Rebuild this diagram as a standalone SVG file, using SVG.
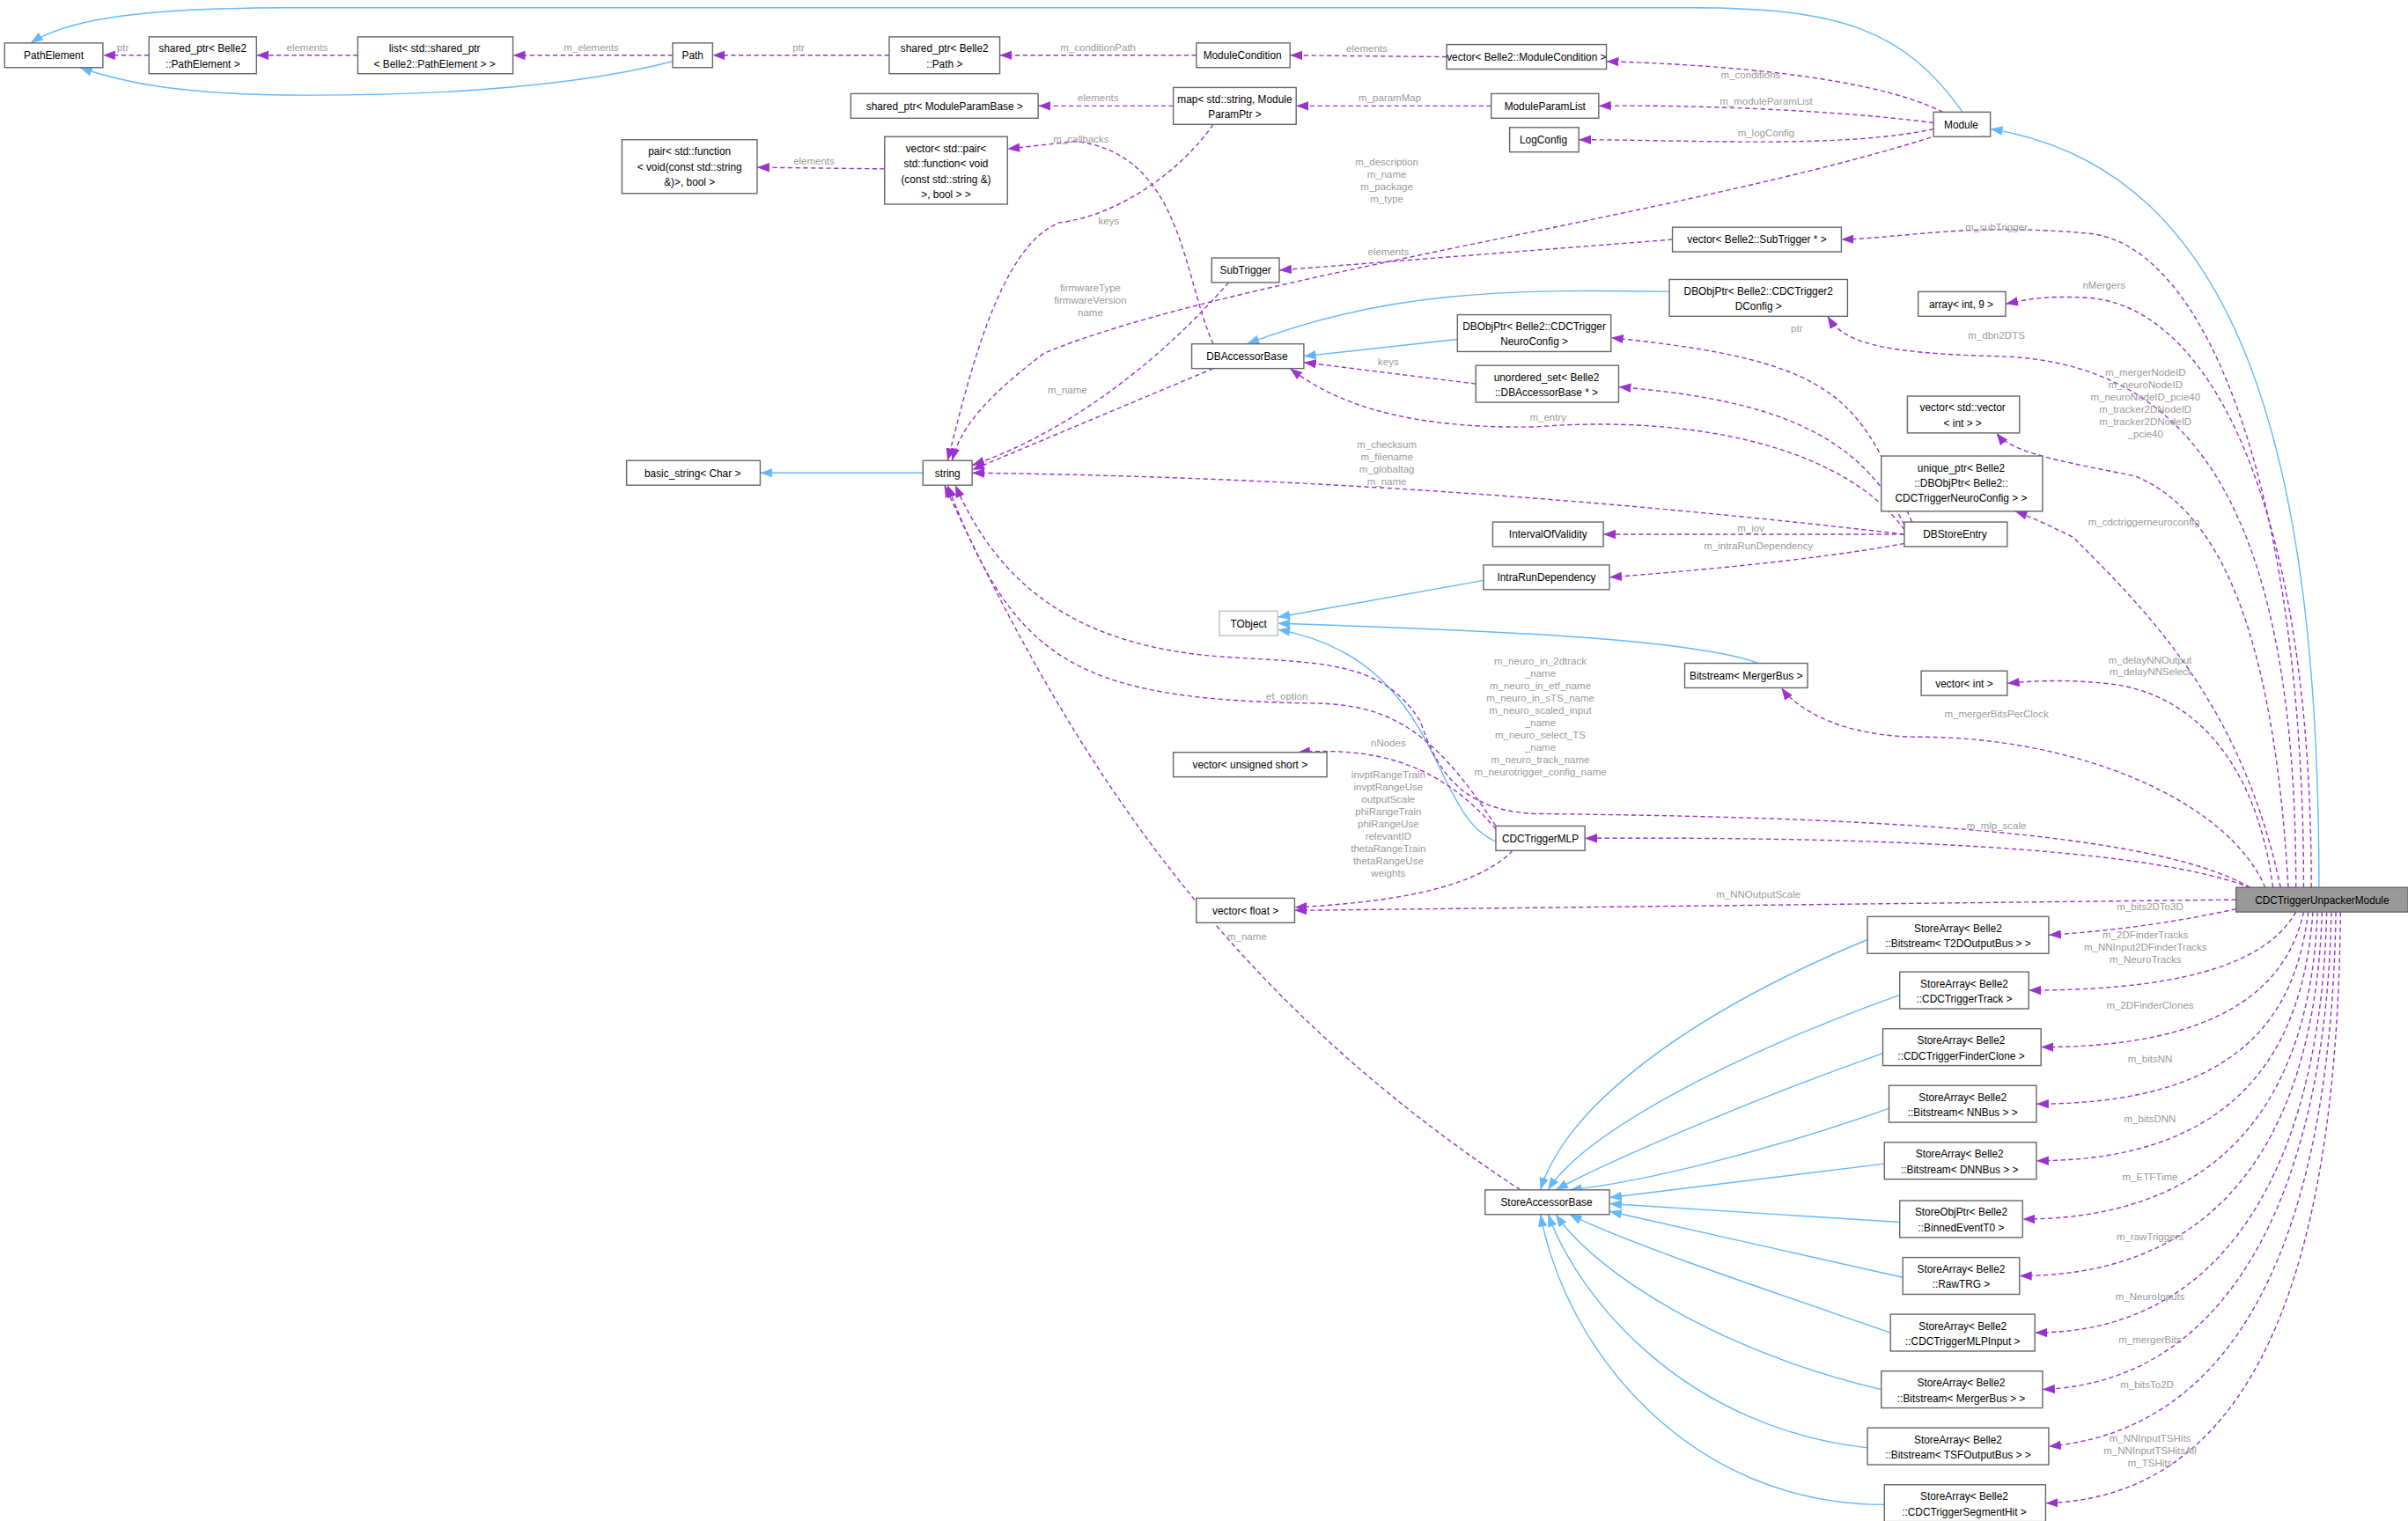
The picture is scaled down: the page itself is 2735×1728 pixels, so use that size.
<svg xmlns="http://www.w3.org/2000/svg" width="2735" height="1728" viewBox="0 0 2735 1728">
<style>
.n rect{fill:#fff;stroke:#666;stroke-width:0.8}
.n text{font-family:"Liberation Sans",Arial,sans-serif;font-size:6.8px;fill:#000;text-anchor:middle}
.l{font-family:"Liberation Sans",Arial,sans-serif;font-size:6.6px;fill:#9a9a9a;text-anchor:middle}
.p{fill:none;stroke:#9a32cd;stroke-width:0.8;stroke-dasharray:3,2;marker-end:url(#mp)}
.b{fill:none;stroke:#63b8ff;stroke-width:0.8;marker-end:url(#mb)}
</style>
<defs>
<marker id="mp" markerUnits="userSpaceOnUse" markerWidth="8" markerHeight="6" refX="8" refY="3" orient="auto"><path d="M0,0 L8,3 L0,6 z" fill="#9a32cd"/></marker>
<marker id="mb" markerUnits="userSpaceOnUse" markerWidth="8" markerHeight="6" refX="8" refY="3" orient="auto"><path d="M0,0 L8,3 L0,6 z" fill="#63b8ff"/></marker>
</defs>
<rect width="2735" height="1728" fill="#fff"/>
<g transform="scale(1.7443)">
<g id="edges">
<path class="b" d="M1278,73 C1240,20 1200,5 1100,5 L190,5 C80,5 40,15 20,28"/>
<path class="b" d="M438,40 C380,55 300,62 200,62 C120,62 80,54 52,44"/>
<path class="b" d="M1510,578 C1510,300 1460,110 1296,84"/>
<path class="b" d="M1087,190 C980,188 900,190 812,224"/>
<path class="b" d="M949,221 L849,232"/>
<path class="b" d="M601,308 L495,308"/>
<path class="b" d="M966,378 L832,402"/>
<path class="b" d="M1145,432 C1100,415 950,410 832,406"/>
<path class="b" d="M974,548 C930,530 940,430 832,410"/>
<path class="b" d="M1216,612 C1100,660 1020,720 1003,775"/>
<path class="b" d="M1237,648 C1120,690 1030,740 1008,775"/>
<path class="b" d="M1226,686 C1130,720 1040,760 1013,775"/>
<path class="b" d="M1230,722 C1150,750 1070,770 1022,775"/>
<path class="b" d="M1227,758 L1048,780"/>
<path class="b" d="M1237,796 L1048,784"/>
<path class="b" d="M1239,832 L1048,789"/>
<path class="b" d="M1231,868 C1150,840 1060,810 1022,791"/>
<path class="b" d="M1225,905 C1120,880 1040,830 1013,791"/>
<path class="b" d="M1216,943 C1100,930 1030,850 1008,791"/>
<path class="b" d="M1227,980 C1100,980 1020,880 1003,791"/>

<path class="p" d="M97,36 L67,36"/><text class="l" x="80" y="33">ptr</text>
<path class="p" d="M233,36 L167,36"/><text class="l" x="200" y="33">elements</text>
<path class="p" d="M438,36 L334,36"/><text class="l" x="385" y="33">m_elements</text>
<path class="p" d="M579,36 L464,36"/><text class="l" x="520" y="33">ptr</text>
<path class="p" d="M779,36 L651,36"/><text class="l" x="715" y="33">m_conditionPath</text>
<path class="p" d="M942,37 L840,36"/><text class="l" x="890" y="34">elements</text>
<path class="p" d="M1265,73 C1220,50 1120,42 1046,40"/><text class="l" x="1140" y="51">m_conditions</text>
<path class="p" d="M764,69 L676,69"/><text class="l" x="715" y="66">elements</text>
<path class="p" d="M971,69 L844,69"/><text class="l" x="905" y="66">m_paramMap</text>
<path class="p" d="M1259,80 C1200,72 1100,68 1041,69"/><text class="l" x="1150" y="68">m_moduleParamList</text>
<path class="p" d="M1259,84 C1200,97 1100,91 1028,91"/><text class="l" x="1150" y="89">m_logConfig</text>
<path class="p" d="M576,110 L493,109"/><text class="l" x="530" y="107">elements</text>
<path class="p" d="M1262,88 C1100,140 800,180 680,230 C640,260 625,280 620,300"/>
<text class="l" x="903" y="108">m_description</text><text class="l" x="903" y="116">m_name</text><text class="l" x="903" y="124">m_package</text><text class="l" x="903" y="132">m_type</text>
<path class="p" d="M790,81 C770,110 730,140 690,145 C650,160 630,250 617,300"/><text class="l" x="722" y="146">keys</text>
<path class="p" d="M790,224 C770,180 770,100 700,92 L656,97"/><text class="l" x="704" y="93">m_callbacks</text>
<path class="p" d="M1089,156 L833,176"/><text class="l" x="904" y="166">elements</text>
<path class="p" d="M800,184 C760,230 700,280 633,303"/>
<text class="l" x="710" y="190">firmwareType</text><text class="l" x="710" y="198">firmwareVersion</text><text class="l" x="710" y="206">name</text>
<path class="p" d="M790,240 L633,306"/><text class="l" x="695" y="256">m_name</text>
<path class="p" d="M961,250 L849,236"/><text class="l" x="904" y="238">keys</text>
<path class="p" d="M1240,345 C1200,290 1100,270 1000,278 C900,280 860,255 840,240"/><text class="l" x="1008" y="274">m_entry</text>
<path class="p" d="M1240,348 C1000,320 800,310 633,308"/>
<text class="l" x="903" y="292">m_checksum</text><text class="l" x="903" y="300">m_filename</text><text class="l" x="903" y="308">m_globaltag</text><text class="l" x="903" y="316">m_name</text>
<path class="p" d="M1240,342 C1210,280 1150,260 1054,252"/><text class="l" x="1008" y="249">m_accessors</text>
<path class="p" d="M1245,340 C1210,260 1200,235 1049,220"/><text class="l" x="1170" y="216">ptr</text>
<path class="p" d="M1240,348 L1044,348"/><text class="l" x="1140" y="346">m_iov</text>
<path class="p" d="M1240,354 C1180,365 1100,372 1048,376"/><text class="l" x="1145" y="358">m_intraRunDependency</text>

<path class="p" d="M1500,578 C1500,330 1440,160 1360,152 C1280,145 1240,155 1199,156"/><text class="l" x="1300" y="150">m_subTrigger</text>
<path class="p" d="M1495,578 C1495,320 1420,235 1300,232 C1220,230 1200,222 1190,206"/><text class="l" x="1300" y="221">m_dbn2DTS</text>
<path class="p" d="M1505,578 C1505,330 1440,200 1360,194 C1330,192 1315,196 1306,198"/><text class="l" x="1370" y="188">nMergers</text>
<path class="p" d="M1490,578 C1480,400 1440,330 1390,310 C1340,300 1310,295 1300,282"/>
<text class="l" x="1397" y="245">m_mergerNodeID</text><text class="l" x="1397" y="253">m_neuroNodeID</text><text class="l" x="1397" y="261">m_neuroNodeID_pcie40</text><text class="l" x="1397" y="269">m_tracker2DNodeID</text><text class="l" x="1397" y="277">m_tracker2DNodeID</text><text class="l" x="1397" y="285">_pcie40</text>
<path class="p" d="M1485,578 C1460,460 1400,400 1350,350 C1330,340 1318,335 1312,333"/><text class="l" x="1396" y="342">m_cdctriggerneuroconfig</text>
<path class="p" d="M1480,578 C1470,500 1430,450 1370,445 C1340,442 1320,444 1307,445"/><text class="l" x="1400" y="432">m_delayNNOutput</text><text class="l" x="1400" y="440">m_delayNNSelect</text>
<path class="p" d="M1475,578 C1450,520 1350,480 1250,480 C1200,480 1170,462 1160,448"/><text class="l" x="1300" y="467">m_mergerBitsPerClock</text>
<path class="p" d="M1465,578 C1400,540 1200,532 1000,530 C950,528 935,500 925,470 C900,430 860,432 800,428 C700,422 650,380 622,316"/>
<text class="l" x="1003" y="433">m_neuro_in_2dtrack</text><text class="l" x="1003" y="441">_name</text><text class="l" x="1003" y="449">m_neuro_in_etf_name</text><text class="l" x="1003" y="457">m_neuro_in_sTS_name</text><text class="l" x="1003" y="465">m_neuro_scaled_input</text><text class="l" x="1003" y="473">_name</text><text class="l" x="1003" y="481">m_neuro_select_TS</text><text class="l" x="1003" y="489">_name</text><text class="l" x="1003" y="497">m_neuro_track_name</text><text class="l" x="1003" y="505">m_neurotrigger_config_name</text>
<path class="p" d="M974,538 C930,470 900,458 850,458 C700,455 660,430 617,316"/><text class="l" x="838" y="456">et_option</text>
<path class="p" d="M974,540 C940,500 900,486 845,490"/><text class="l" x="904" y="486">nNodes</text>
<path class="p" d="M985,554 C960,580 900,588 843,591"/>
<text class="l" x="904" y="507">invptRangeTrain</text><text class="l" x="904" y="515">invptRangeUse</text><text class="l" x="904" y="523">outputScale</text><text class="l" x="904" y="531">phiRangeTrain</text><text class="l" x="904" y="539">phiRangeUse</text><text class="l" x="904" y="547">relevantID</text><text class="l" x="904" y="555">thetaRangeTrain</text><text class="l" x="904" y="563">thetaRangeUse</text><text class="l" x="904" y="571">weights</text>
<path class="p" d="M1470,580 C1400,550 1200,545 1032,546"/><text class="l" x="1300" y="540">m_mlp_scale</text>
<path class="p" d="M1456,586 L843,593"/><text class="l" x="1145" y="585">m_NNOutputScale</text>
<path class="p" d="M990,775 C800,650 700,500 615,316"/><text class="l" x="812" y="612">m_name</text>

<path class="p" d="M1456,592 C1420,600 1380,606 1334,609"/><text class="l" x="1400" y="593">m_bits2DTo3D</text>
<path class="p" d="M1495,594 C1480,620 1440,645 1321,645"/><text class="l" x="1397" y="611">m_2DFinderTracks</text><text class="l" x="1397" y="619">m_NNInput2DFinderTracks</text><text class="l" x="1397" y="627">m_NeuroTracks</text>
<path class="p" d="M1500,594 C1490,640 1450,682 1329,682"/><text class="l" x="1400" y="657">m_2DFinderClones</text>
<path class="p" d="M1503,594 C1495,660 1460,719 1326,719"/><text class="l" x="1400" y="692">m_bitsNN</text>
<path class="p" d="M1506,594 C1500,680 1460,756 1326,756"/><text class="l" x="1400" y="731">m_bitsDNN</text>
<path class="p" d="M1509,594 C1505,700 1460,794 1317,794"/><text class="l" x="1400" y="769">m_ETFTime</text>
<path class="p" d="M1512,594 C1508,720 1460,831 1315,831"/><text class="l" x="1400" y="808">m_rawTriggers</text>
<path class="p" d="M1515,594 C1512,740 1460,868 1325,868"/><text class="l" x="1400" y="847">m_NeuroInputs</text>
<path class="p" d="M1518,594 C1515,760 1460,900 1330,905"/><text class="l" x="1400" y="875">m_mergerBits</text>
<path class="p" d="M1521,594 C1518,780 1470,930 1334,942"/><text class="l" x="1398" y="904">m_bitsTo2D</text>
<path class="p" d="M1524,594 C1522,800 1480,975 1332,979"/><text class="l" x="1400" y="939">m_NNInputTSHits</text><text class="l" x="1400" y="947">m_NNInputTSHitsAll</text><text class="l" x="1400" y="955">m_TSHits</text>
</g>

<g id="PathElement" class="n"><rect x="3" y="28" width="64" height="16"/><text x="35" y="38.5">PathElement</text></g>
<g id="sp_PathElement" class="n"><rect x="97" y="24" width="70" height="24"/><text x="132" y="34">shared_ptr&lt; Belle2</text><text x="132" y="44">::PathElement &gt;</text></g>
<g id="list_sp" class="n"><rect x="233" y="24" width="101" height="24"/><text x="283" y="34">list&lt; std::shared_ptr</text><text x="283" y="44">&lt; Belle2::PathElement &gt; &gt;</text></g>
<g id="Path" class="n"><rect x="438" y="28" width="26" height="16"/><text x="451" y="38.5">Path</text></g>
<g id="sp_Path" class="n"><rect x="579" y="24" width="72" height="24"/><text x="615" y="34">shared_ptr&lt; Belle2</text><text x="615" y="44">::Path &gt;</text></g>
<g id="ModuleCondition" class="n"><rect x="779" y="28" width="61" height="16"/><text x="809" y="38.5">ModuleCondition</text></g>
<g id="vec_ModuleCondition" class="n"><rect x="942" y="29" width="104" height="16"/><text x="994" y="39.5">vector&lt; Belle2::ModuleCondition &gt;</text></g>
<g id="sp_ModuleParamBase" class="n"><rect x="554" y="61" width="122" height="16"/><text x="615" y="71.5">shared_ptr&lt; ModuleParamBase &gt;</text></g>
<g id="map" class="n"><rect x="764" y="57" width="80" height="24"/><text x="804" y="67">map&lt; std::string, Module</text><text x="804" y="77">ParamPtr &gt;</text></g>
<g id="ModuleParamList" class="n"><rect x="971" y="61" width="70" height="16"/><text x="1006" y="71.5">ModuleParamList</text></g>
<g id="LogConfig" class="n"><rect x="983" y="83" width="45" height="16"/><text x="1005" y="93.5">LogConfig</text></g>
<g id="Module" class="n"><rect x="1259" y="73" width="37" height="16"/><text x="1277" y="83.5">Module</text></g>
<g id="pair" class="n"><rect x="405" y="91" width="88" height="35"/><text x="449" y="101">pair&lt; std::function</text><text x="449" y="111">&lt; void(const std::string</text><text x="449" y="121">&amp;)&gt;, bool &gt;</text></g>
<g id="vec_pair" class="n"><rect x="576" y="89" width="80" height="44"/><text x="616" y="99">vector&lt; std::pair&lt;</text><text x="616" y="109">std::function&lt; void</text><text x="616" y="119">(const std::string &amp;)</text><text x="616" y="129">&gt;, bool &gt; &gt;</text></g>
<g id="vec_SubTrigger" class="n"><rect x="1089" y="148" width="110" height="16"/><text x="1144" y="158.5">vector&lt; Belle2::SubTrigger * &gt;</text></g>
<g id="SubTrigger" class="n"><rect x="789" y="168" width="44" height="16"/><text x="811" y="178.5">SubTrigger</text></g>
<g id="array" class="n"><rect x="1249" y="190" width="57" height="16"/><text x="1277" y="200.5">array&lt; int, 9 &gt;</text></g>
<g id="DBObj2D" class="n"><rect x="1087" y="182" width="116" height="24"/><text x="1145" y="192">DBObjPtr&lt; Belle2::CDCTrigger2</text><text x="1145" y="202">DConfig &gt;</text></g>
<g id="DBObjNeuro" class="n"><rect x="949" y="205" width="100" height="24"/><text x="999" y="215">DBObjPtr&lt; Belle2::CDCTrigger</text><text x="999" y="225">NeuroConfig &gt;</text></g>
<g id="DBAccessorBase" class="n"><rect x="776" y="224" width="73" height="16"/><text x="812" y="234.5">DBAccessorBase</text></g>
<g id="uset" class="n"><rect x="961" y="238" width="93" height="24"/><text x="1007" y="248">unordered_set&lt; Belle2</text><text x="1007" y="258">::DBAccessorBase * &gt;</text></g>
<g id="vecvec" class="n"><rect x="1242" y="258" width="73" height="24"/><text x="1278" y="268">vector&lt; std::vector</text><text x="1278" y="278">&lt; int &gt; &gt;</text></g>
<g id="uptr" class="n"><rect x="1225" y="297" width="105" height="36"/><text x="1277" y="307">unique_ptr&lt; Belle2</text><text x="1277" y="317">::DBObjPtr&lt; Belle2::</text><text x="1277" y="327">CDCTriggerNeuroConfig &gt; &gt;</text></g>
<g id="basic_string" class="n"><rect x="408" y="300" width="87" height="16"/><text x="451" y="310.5">basic_string&lt; Char &gt;</text></g>
<g id="string" class="n"><rect x="601" y="300" width="32" height="16"/><text x="617" y="310.5">string</text></g>
<g id="IOV" class="n"><rect x="972" y="340" width="72" height="16"/><text x="1008" y="350.5">IntervalOfValidity</text></g>
<g id="DBStoreEntry" class="n"><rect x="1240" y="340" width="67" height="16"/><text x="1273" y="350.5">DBStoreEntry</text></g>
<g id="IntraRunDependency" class="n"><rect x="966" y="368" width="82" height="16"/><text x="1007" y="378.5">IntraRunDependency</text></g>
<g id="TObject" class="n"><rect x="794" y="398" width="38" height="16" style="stroke:#bfbfbf"/><text x="813" y="408.5">TObject</text></g>
<g id="Bitstream_MergerBus" class="n"><rect x="1097" y="432" width="80" height="16"/><text x="1137" y="442.5">Bitstream&lt; MergerBus &gt;</text></g>
<g id="vec_int" class="n"><rect x="1251" y="437" width="56" height="16"/><text x="1279" y="447.5">vector&lt; int &gt;</text></g>
<g id="vec_ushort" class="n"><rect x="764" y="490" width="100" height="16"/><text x="814" y="500.5">vector&lt; unsigned short &gt;</text></g>
<g id="CDCTriggerMLP" class="n"><rect x="974" y="538" width="58" height="16"/><text x="1003" y="548.5">CDCTriggerMLP</text></g>
<g id="vec_float" class="n"><rect x="779" y="585" width="64" height="16"/><text x="811" y="595.5">vector&lt; float &gt;</text></g>
<g id="CDCTriggerUnpackerModule" class="n"><rect x="1456" y="578" width="112" height="16" style="fill:#999"/><text x="1512" y="588.5">CDCTriggerUnpackerModule</text></g>
<g id="sa_T2D" class="n"><rect x="1216" y="597" width="118" height="24"/><text x="1275" y="607">StoreArray&lt; Belle2</text><text x="1275" y="617">::Bitstream&lt; T2DOutputBus &gt; &gt;</text></g>
<g id="sa_Track" class="n"><rect x="1237" y="633" width="84" height="24"/><text x="1279" y="643">StoreArray&lt; Belle2</text><text x="1279" y="653">::CDCTriggerTrack &gt;</text></g>
<g id="sa_Clone" class="n"><rect x="1226" y="670" width="103" height="24"/><text x="1277" y="680">StoreArray&lt; Belle2</text><text x="1277" y="690">::CDCTriggerFinderClone &gt;</text></g>
<g id="sa_NN" class="n"><rect x="1230" y="707" width="96" height="24"/><text x="1278" y="717">StoreArray&lt; Belle2</text><text x="1278" y="727">::Bitstream&lt; NNBus &gt; &gt;</text></g>
<g id="sa_DNN" class="n"><rect x="1227" y="744" width="99" height="24"/><text x="1276" y="754">StoreArray&lt; Belle2</text><text x="1276" y="764">::Bitstream&lt; DNNBus &gt; &gt;</text></g>
<g id="so_T0" class="n"><rect x="1237" y="782" width="80" height="24"/><text x="1277" y="792">StoreObjPtr&lt; Belle2</text><text x="1277" y="802">::BinnedEventT0 &gt;</text></g>
<g id="sa_Raw" class="n"><rect x="1239" y="819" width="76" height="24"/><text x="1277" y="829">StoreArray&lt; Belle2</text><text x="1277" y="839">::RawTRG &gt;</text></g>
<g id="sa_MLPInput" class="n"><rect x="1231" y="856" width="94" height="24"/><text x="1278" y="866">StoreArray&lt; Belle2</text><text x="1278" y="876">::CDCTriggerMLPInput &gt;</text></g>
<g id="sa_Merger" class="n"><rect x="1225" y="893" width="105" height="24"/><text x="1277" y="903">StoreArray&lt; Belle2</text><text x="1277" y="913">::Bitstream&lt; MergerBus &gt; &gt;</text></g>
<g id="sa_TSF" class="n"><rect x="1216" y="930" width="118" height="24"/><text x="1275" y="940">StoreArray&lt; Belle2</text><text x="1275" y="950">::Bitstream&lt; TSFOutputBus &gt; &gt;</text></g>
<g id="sa_Seg" class="n"><rect x="1227" y="967" width="105" height="24"/><text x="1279" y="977">StoreArray&lt; Belle2</text><text x="1279" y="987">::CDCTriggerSegmentHit &gt;</text></g>
<g id="StoreAccessorBase" class="n"><rect x="967" y="775" width="81" height="16"/><text x="1007" y="785.5">StoreAccessorBase</text></g>
</g>
</svg>
